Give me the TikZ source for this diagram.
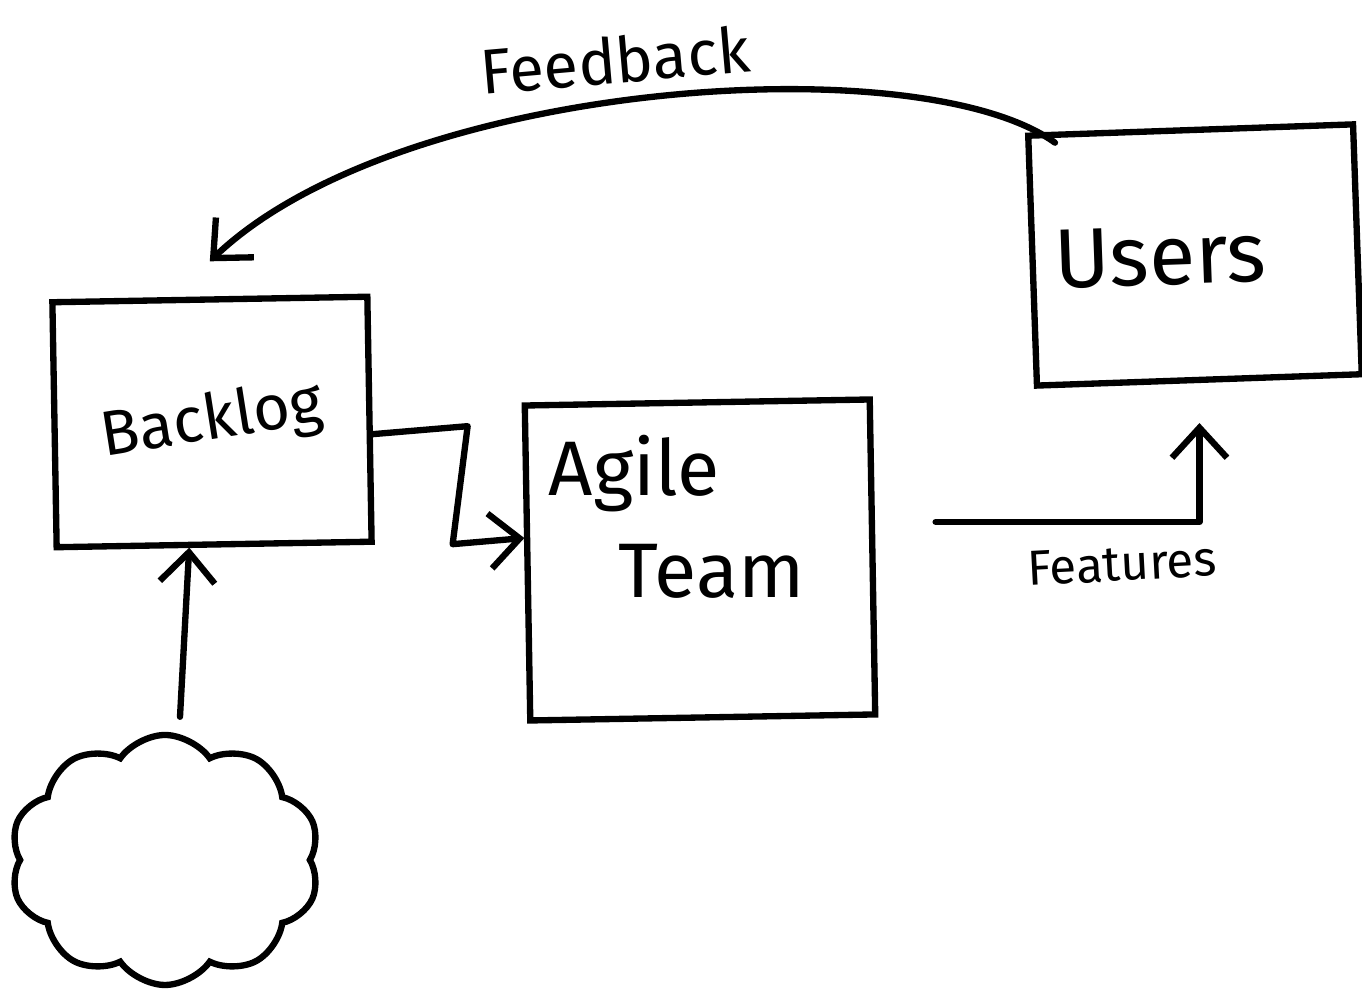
\documentclass[tikz,border=0pt]{standalone}
\usepackage{fontspec}
\setmainfont{Fira Sans}
\usepackage{xcolor}
\usetikzlibrary{arrows.meta, positioning, shapes.symbols, calc}

\begin{document}
\begin{tikzpicture}[
    every node/.style={font=\normalfont},
    box/.style={rectangle, draw, line width=1.8pt, inner sep=4pt},
    link/.style={line width=1.8pt, line join=round, line cap=round,
                 -{Straight Barb[length=3mm, width=5.5mm, line width=1.8pt]}},
    hand/.style={font=\fontsize{#1}{#1}\selectfont},
]
\useasboundingbox (0, 0) rectangle (13.62, 10);

% The three boxes
\node[box, minimum width=3.15cm, minimum height=2.45cm, hand=18, rotate=1]
    (backlog) at (2.12, 5.78) {\rotatebox{8}{Backlog}};
\node[box, minimum width=3.45cm, minimum height=3.15cm, rotate=1]
    (agile) at (7.0, 4.4) {};
\node[box, minimum width=3.25cm, minimum height=2.5cm, hand=24, rotate=2]
    (users) at (11.95, 7.45) {Users\kern0.7cm};
\node[hand=22, align=left, anchor=north west]
    (agiletext) at ($(agile.north west)+(0.15,-0.2)$)
    {Agile\\[0.25cm]\hspace{0.7cm}Team};

% Where the ideas come from
\node[cloud, draw, line width=1.8pt, cloud puffs=10, cloud puff arc=110,
      minimum width=3.1cm, minimum height=2.5cm, aspect=1.2]
    (ideas) at (1.65, 1.4) {};

% Arrows between them
\draw[link] ($(ideas.north)+(0.15,0.15)$) -- ($(backlog.south)+(-0.25,0)$);
\draw[link] ([yshift=-1.5mm]backlog.east) -- ++(0.95,0.08)
    -- ++(-0.15,-1.18) -- ([yshift=2.5mm]agile.west);
\draw[link] ($(agile.east)+(0.6,0.35)$) -| ([yshift=-4mm]users.south)
    node[pos=0.35, below=1mm, hand=14, rotate=3] (features) {Features};

% Feedback loop back to the backlog
\draw[link] ([xshift=3mm, yshift=-1mm]users.north west)
    .. controls (9.2, 9.55) and (4.0, 9.2) .. ([yshift=3.5mm]backlog.north);
\node[hand=18, rotate=5] (feedback) at (6.15, 9.4) {Feedback};

\end{tikzpicture}
\end{document}
